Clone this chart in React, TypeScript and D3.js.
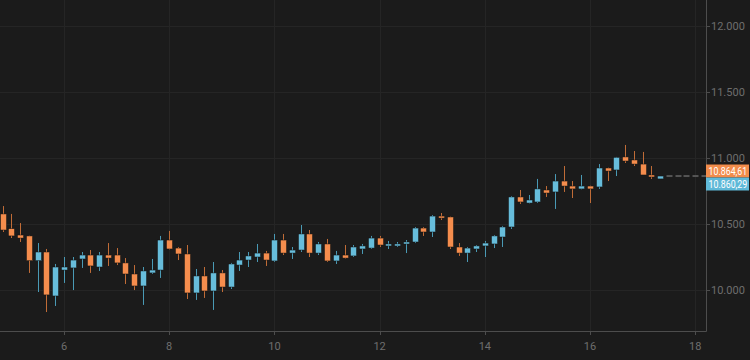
import React from "react";
import * as d3 from "d3";

// 4-hour candles, first bar starts 7 bars before day 6
const startDay = 6 - 7 / 6;
const barsPerDay = 6;

const opens = [10575,10463,10415,10408,10220,10286,9952,10149,10165,10233,10263,10172,10263,10263,10203,10119,10028,10127,10149,10377,10316,10271,9975,10104,9990,10127,10020,10187,10225,10248,10278,10218,10377,10278,10301,10423,10278,10347,10218,10263,10256,10309,10316,10392,10332,10332,10347,10362,10468,10438,10559,10552,10324,10278,10309,10332,10347,10400,10476,10704,10658,10666,10757,10742,10825,10787,10765,10787,10780,10924,10909,11008,10985,10954,10871,10841,10863,10863,10863,10863,10863];
const highs = [10635,10575,10506,10410,10354,10309,10195,10248,10248,10286,10301,10286,10354,10316,10240,10187,10172,10233,10408,10446,10324,10339,10157,10172,10210,10149,10203,10286,10286,10347,10294,10423,10423,10324,10491,10453,10362,10385,10294,10339,10339,10347,10408,10408,10370,10362,10377,10476,10476,10567,10582,10555,10354,10324,10339,10370,10415,10484,10711,10757,10719,10841,10787,10878,10939,10825,10871,10790,10954,10927,11008,11099,11053,11046,10939,10863,10866,10866,10866,10866,10866];
const lows = [10438,10392,10362,10127,9982,9830,9876,10051,9997,10165,10127,10142,10180,10187,10043,9997,9884,10119,10089,10305,10225,9929,9922,9937,9846,9982,10005,10142,10172,10210,10180,10210,10263,10233,10286,10248,10263,10210,10195,10236,10248,10271,10309,10324,10309,10324,10278,10354,10408,10400,10529,10309,10256,10210,10286,10248,10316,10324,10461,10651,10655,10658,10704,10613,10742,10696,10762,10658,10765,10825,10863,10962,10939,10871,10841,10841,10860,10860,10860,10860,10860];
const closes = [10453,10408,10392,10220,10286,9960,10172,10172,10225,10263,10180,10263,10240,10203,10119,10028,10142,10149,10377,10309,10271,9975,10104,9990,10127,10020,10195,10225,10256,10278,10225,10377,10278,10301,10423,10278,10347,10218,10263,10240,10324,10332,10392,10339,10347,10347,10362,10468,10438,10559,10544,10324,10278,10316,10332,10354,10408,10476,10704,10666,10681,10765,10734,10825,10787,10765,10787,10765,10924,10901,11005,10977,10954,10871,10856,10863,10863,10863,10863,10863,10863];

const yTicks = [10000, 10500, 11000, 11500, 12000];
const xTicks = [6, 8, 10, 12, 14, 16, 18];
const lastPrices = [10864.61, 10860.29];
const lastColors = ["#f28c4b", "#5fb9d8"];

const W = 750;
const H = 360;
const plotR = 706;
const plotB = 331;

const locale = d3.formatLocale({ decimal: ",", thousands: ".", grouping: [3], currency: ["", ""] });
const fmtTick = locale.format(",.0f");
const fmtPrice = locale.format(",.2f");

export default function App() {
  const x = d3.scaleLinear().domain([4.783, 18.205]).range([0, plotR]);
  const y = d3.scaleLinear().domain([9686, 12200]).range([plotB, 0]);
  const bodyW = 6;
  const up = "#67bddb";
  const down = "#f58d4d";
  const upWick = "#4a9ab5";
  const downWick = "#c06c37";
  const flat = "#555555";

  const candles = opens.map((o, i) => ({
    t: startDay + i / barsPerDay,
    o,
    h: highs[i],
    l: lows[i],
    c: closes[i],
  }));

  return (
    <div style={{ position: "fixed", left: 0, top: 0, width: W, height: H }}>
      <svg width={W} height={H} style={{ display: "block", background: "#1b1b1b", fontFamily: "Roboto, sans-serif" }}>
        <rect x={0} y={0} width={W} height={H} fill="#1b1b1b" />
        {/* grid */}
        {yTicks.map((v) => (
          <line key={"gy" + v} x1={0} x2={plotR} y1={Math.round(y(v)) + 0.5} y2={Math.round(y(v)) + 0.5} stroke="#252525" />
        ))}
        {xTicks.map((v) => (
          <line key={"gx" + v} x1={Math.round(x(v)) + 0.5} x2={Math.round(x(v)) + 0.5} y1={0} y2={plotB} stroke="#252525" />
        ))}
        {/* candles */}
        <g>
          {candles.map((d, i) => {
            const cx = Math.round(x(d.t)) + 0.5;
            const isFlat = d.o === d.c;
            const isUp = d.c > d.o;
            const col = isFlat ? flat : isUp ? up : down;
            const wcol = isFlat ? flat : isUp ? upWick : downWick;
            const top = y(Math.max(d.o, d.c));
            const bot = y(Math.min(d.o, d.c));
            const bh = Math.max(2, bot - top);
            if (cx > plotR) return null;
            return (
              <g key={i}>
                {!isFlat && (
                  <line x1={cx} x2={cx} y1={y(d.h)} y2={y(d.l)} stroke={wcol} strokeWidth={1} />
                )}
                <rect
                  x={cx - bodyW / 2}
                  y={isFlat ? y(d.o) - 1 : top}
                  width={bodyW}
                  height={bh}
                  fill={col}
                  stroke={isFlat ? "none" : "#141414"}
                  strokeWidth={0.5}
                />
              </g>
            );
          })}
        </g>
        {/* axes */}
        <line x1={plotR + 0.5} x2={plotR + 0.5} y1={0} y2={plotB + 0.5} stroke="#4d4d4d" />
        <line x1={0} x2={plotR + 0.5} y1={plotB + 0.5} y2={plotB + 0.5} stroke="#4d4d4d" />
        {yTicks.map((v) => (
          <g key={"ty" + v}>
            <line x1={plotR} x2={plotR + 4} y1={Math.round(y(v)) + 0.5} y2={Math.round(y(v)) + 0.5} stroke="#4d4d4d" />
            <text x={plotR + 5} y={y(v)} dy="0.35em" fontSize={11} fill="#6e6e6e">
              {fmtTick(v)}
            </text>
          </g>
        ))}
        {xTicks.map((v) => (
          <g key={"tx" + v}>
            <line x1={Math.round(x(v)) + 0.5} x2={Math.round(x(v)) + 0.5} y1={plotB} y2={plotB + 4} stroke="#4d4d4d" />
            <text x={x(v)} y={350} textAnchor="middle" fontSize={11} fill="#6e6e6e">
              {v}
            </text>
          </g>
        ))}
        {/* last price labels */}
        {lastPrices.map((p, i) => {
          const cy = 171 + i * 13;
          return (
            <g key={"lp" + i}>
              <rect x={plotR} y={cy - 6.5} width={W - plotR - 1} height={13} fill={lastColors[i]} />
              <g transform={`translate(${plotR + 2.5},${cy}) scale(0.84,1)`}>
                <text x={0} y={0} dy="0.35em" fontSize={10.5} fill="#ffffff">
                  {fmtPrice(p)}
                </text>
              </g>
            </g>
          );
        })}
      </svg>
    </div>
  );
}
